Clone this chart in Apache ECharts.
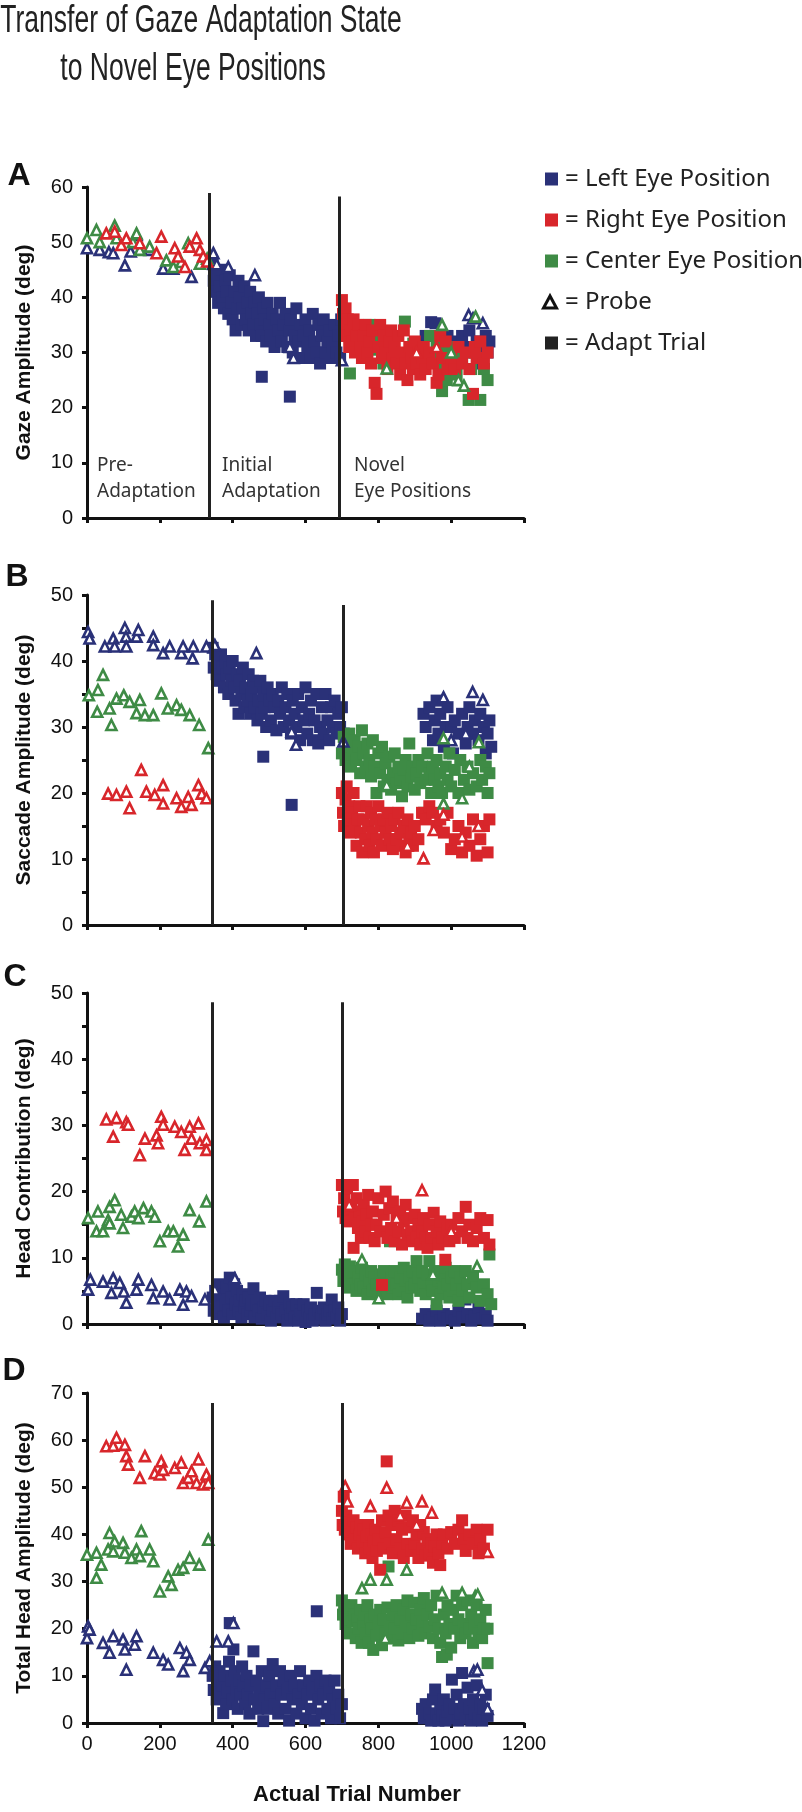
<!DOCTYPE html>
<html><head><meta charset="utf-8">
<script src="https://cdn.jsdelivr.net/npm/echarts@6/dist/echarts.min.js"></script>
<style>html,body{margin:0;padding:0;background:#fff}#c{width:802px;height:1812px}</style>
</head><body><div id="c"></div><script>
// ---------- tick labels ----------
const trialTicks = [0, 200, 400, 600, 800, 1000, 1200];
const yTicksA = [0, 10, 20, 30, 40, 50, 60];
const yTicksB = [0, 10, 20, 30, 40, 50];
const yTicksC = [0, 10, 20, 30, 40, 50];
const yTicksD = [0, 10, 20, 30, 40, 50, 60, 70];
const panelLetters = ['A', 'B', 'C', 'D'];
const yTitles = ['Gaze Amplitude (deg)', 'Saccade Amplitude (deg)', 'Head Contribution (deg)', 'Total Head Amplitude (deg)'];
const xTitle = 'Actual Trial Number';
const legendLabels = ['= Left Eye Position', '= Right Eye Position', '= Center Eye Position', '= Probe', '= Adapt Trial'];
const phaseLabels = [['Pre-', 'Adaptation'], ['Initial', 'Adaptation'], ['Novel', 'Eye Positions']];
// divider positions (trial number) and their top value per panel
const dividerTrials = [[337, 694], [343, 705], [343, 702], [343, 702]];
const dividerTops = [[58.9, 58.3], [49.2, 48.5], [48.6, 48.6], [67.9, 67.9]];

// ---------- Panel A : Gaze amplitude ----------
const A_leftProbe = [[0,48.9],[35,48.6],[60,48.2],[72,48],[104,45.8],[120,48.3],[136,51.3],[172,48.6],[209,45.2],[237,45.2],[287,43.7],[347,48],[356,46],[388,45.5],[461,44],[557,31],[567,29],[700,28.6],[1048,36.8],[1060,36.2],[1087,35.3]];
const A_centerProbe = [[0,50.7],[26,52.2],[35,50],[76,53],[81,50.7],[126,50],[136,51.6],[145,48.6],[172,49.2],[218,46.7],[237,45.5],[259,46.4],[278,49.8],[310,46.1],[330,47],[823,27.1],[975,35],[1020,25],[1067,36.5],[1035,24],[1000,30]];
const A_rightProbe = [[53,51.6],[76,51.9],[94,49.5],[108,50.7],[145,49.8],[191,48],[204,51],[241,48.9],[250,47.4],[269,45.5],[282,49.2],[301,50.7],[310,48.6],[319,47.4],[330,46.5],[905,30],[960,31]];
const A_leftAdapt = [[345,46],[348,43],[352,41],[356,44],[360,39],[364,42],[368,45],[372,40],[376,38],[380,43],[384,41],[388,37],[392,44],[396,39],[400,36],[404,41],[408,34],[412,38],[416,43],[420,40],[424,35],[428,38],[432,42],[436,36],[440,39],[444,34],[448,41],[452,37],[456,35],[460,39],[464,33],[468,37],[472,40],[476,35],[480,33],[484,38],[488,36],[492,32],[496,39],[500,35],[505,33],[510,37],[515,31],[520,36],[525,34],[530,39],[535,32],[540,35],[545,37],[550,31],[555,34],[560,36],[565,30],[570,33],[575,38],[580,32],[585,35],[590,29],[595,33],[600,36],[605,31],[610,34],[615,29],[620,37],[625,32],[630,30],[635,35],[640,28],[645,33],[650,36],[655,30],[660,32],[665,34],[670,29],[675,31],[680,35],[685,30],[690,33],[695,29],[698,36],[480,25.6],[557,22],
  [930,33],[945,35.5],[957,35.3],[965,32],[975,31],[990,33],[1000,30],[1010,32],[1020,29],[1030,33],[1040,31],[1050,34],[1060,30],[1070,32],[1080,29],[1090,31],[1100,30],[1095,33],[1085,28],[1105,32]];
const A_centerAdapt = [[722,26.2],[768,31],[776,35],[785,33],[796,30.5],[814,28],[873,35.6],[896,31.6],[942,33],[950,29],[960,31],[968,27],[975,23],[980,30],[988,25],[995,28],[1005,31],[1015,26],[1030,29],[1048,21.4],[1055,27],[1065,30],[1080,21.4],[1090,27],[1100,25]];
const A_rightAdapt = [[700,39.5],[703,37],[706,35],[710,38],[712,33],[716,36],[720,31],[724,34],[728,32],[732,36],[736,30],[740,33],[745,35],[750,31],[755,29],[760,33],[765,35],[770,30],[775,32],[780,28],[785,34],[790,24.5],[795,22.5],[800,31],[805,35],[810,29],[815,33],[820,30],[825,27],[830,32],[835,34],[840,29],[845,31],[850,28],[855,33],[860,26],[865,30],[870,34],[875,28],[880,25],[885,31],[890,29],[895,27],[900,32],[905,28],[910,30],[915,26],[920,29],[925,31],[930,27],[940,30],[950,28],[960,24.5],[965,26],[970,33],[975,29],[985,32],[990,27],[1000,29],[1010,27],[1020,31],[1030,28],[1040,30],[1050,27],[1060,22.5],[1065,31],[1070,29],[1080,32],[1090,28],[1100,30]];

// ---------- Panel B : Saccade amplitude ----------
const B_leftProbe = [[3,44.4],[7,43.4],[49,42.2],[72,43.4],[76,42.2],[104,45],[107,43.7],[108,42.2],[136,43.7],[141,44.7],[182,43.7],[182,42.4],[209,41.2],[227,42.2],[259,41.2],[264,42.2],[290,40.4],[292,42.2],[328,42.2],[351,42.4],[465,41.2],[562,29.3],[574,27.3],[704,27.8],[979,34.5],[1059,35.3],[1087,34.1],[1000,28],[1040,29]];
const B_centerProbe = [[5,34.8],[30,35.6],[44,37.9],[28,32.3],[62,32.8],[67,30.3],[81,34.3],[101,34.8],[117,33.8],[145,34.1],[136,32.1],[159,31.8],[182,31.8],[204,35.1],[222,32.8],[246,33.3],[259,32.6],[282,31.8],[308,30.3],[333,26.8],[823,21.2],[979,28.3],[979,18.4],[1030,19.2],[1076,27.7],[1050,24]];
const B_rightProbe = [[58,19.9],[81,19.7],[108,20.2],[117,17.7],[149,23.5],[163,20.2],[186,19.7],[209,21.2],[209,18.4],[246,19.2],[259,17.9],[278,19.4],[287,18.2],[306,21.2],[315,19.9],[328,19.2],[924,10.1],[952,14.4],[1030,13.4],[979,16.7],[1075,15],[880,12]];
const B_leftAdapt = [[345,42],[348,39],[352,41],[356,38],[360,40],[364,37],[368,41],[372,39],[376,36],[380,40],[384,38],[388,35],[392,39],[396,37],[400,40],[404,36],[408,34],[412,38],[416,32],[420,37],[424,35],[428,39],[432,33],[436,36],[440,34],[444,38],[448,32],[452,35],[456,37],[460,33],[464,36],[468,31],[472,34],[476,37],[480,32],[484,35],[488,33],[492,30],[496,36],[500,34],[505,31],[510,35],[515,33],[520,29.5],[525,34],[530,32],[535,36],[540,30],[545,33],[550,35],[555,31],[560,29],[565,34],[570,32],[575,30],[580,35],[585,28],[590,33],[595,31],[600,36],[605,29],[610,32],[615,34],[620,28],[625,31],[630,35],[635,27.5],[640,30],[645,33],[650,29],[655,35],[660,31],[665,28],[670,33],[675,30],[680,34],[685,29],[690,32],[695,30],[700,33],[705,29],[484,25.5],[562,18.2],
  [924,32],[930,30],[940,33],[950,28],[955,31],[960,34],[965,29],[970,32],[980,27],[985,30],[990,33],[1000,30],[1005,26],[1010,31],[1020,29],[1030,32],[1040,27.5],[1045,30],[1050,33],[1060,29],[1065,31],[1075,28],[1080,32],[1090,30],[1095,26],[1100,29],[1105,31],[1110,27]];
const B_centerAdapt = [[700,26],[705,28.5],[710,25],[715,27],[720,29],[725,24],[730,26.5],[735,28],[740,25],[745,27],[750,23],[755,29.5],[760,26],[765,24],[770,27.5],[775,25],[780,22.5],[785,28],[790,24],[795,20],[800,26],[805,23],[810,27],[815,21],[820,24.5],[825,22],[830,25.5],[835,20.5],[840,23],[845,26],[850,21.5],[855,24],[860,22],[865,19.5],[870,23.5],[875,25],[880,21],[885,27.5],[890,22.5],[895,24],[900,20.5],[905,23],[910,25],[915,21.5],[920,24],[925,17],[930,22],[935,26],[940,23],[945,20],[950,24],[955,22],[960,25],[965,21],[970,23],[975,20],[985,24],[990,22],[995,26],[1000,21],[1010,23.5],[1020,20],[1025,25],[1035,22],[1045,24],[1050,20.5],[1060,23],[1070,21],[1080,25],[1085,22],[1095,24],[1100,20],[1105,23]];
const B_rightAdapt = [[700,20],[703,17],[706,15],[710,19],[713,21],[716,16],[720,18],[724,14],[728,17],[732,20],[736,15],[740,12],[744,16],[748,18],[752,14],[756,11],[760,16],[764,13],[768,18],[772,15],[776,12],[780,17],[784,14],[788,11],[792,16],[796,13],[800,18],[805,15],[810,12],[815,16],[820,14],[825,17],[830,13],[835,15],[840,11.5],[845,16],[850,13],[855,17],[860,14],[865,12],[870,15],[875,11],[880,16],[885,13],[890,14],[895,12],[900,15],[910,13],[920,17],[930,16],[940,18],[950,17],[960,15],[970,16],[980,14],[990,17],[1000,11.5],[1010,13],[1020,15],[1030,11],[1040,14],[1050,12],[1060,16],[1070,10.5],[1080,13],[1090,15],[1100,11],[1105,16]];

// ---------- Panel C : Head contribution ----------
const C_leftProbe = [[3,5.2],[9,6.7],[44,6.4],[72,6.9],[67,4.7],[90,6.2],[101,4.9],[108,3.2],[136,5.2],[141,6.7],[177,5.9],[182,3.9],[209,4.9],[227,3.7],[255,5.2],[264,2.9],[273,4.9],[287,4.2],[324,3.7],[351,5.2],[406,6.9]];
const C_centerProbe = [[3,16],[30,17],[26,14],[44,14],[58,15.7],[62,17.7],[76,18.7],[62,15.2],[94,16.5],[99,14.5],[122,16.2],[131,17],[141,16],[155,17.5],[177,17],[186,16.2],[200,12.5],[223,14],[237,14],[250,11.7],[264,13.5],[282,17.2],[308,15.5],[328,18.5],[755,9.7],[801,3.9],[1071,8.7],[950,7.5]];
const C_rightProbe = [[53,30.9],[81,31.1],[72,28.3],[108,30.5],[113,30.1],[145,25.5],[159,28],[191,28.5],[195,27.3],[204,31.3],[209,30.1],[241,29.8],[259,29],[268,26.3],[282,29.8],[287,28],[306,30.3],[310,27.3],[328,27.8],[328,26.3],[920,20.2],[720,18],[850,16],[1000,14]];
const C_leftAdapt = [[345,4],[348,2],[352,5],[356,1.5],[360,3.5],[364,6],[368,2.5],[372,4.5],[376,1],[380,3],[384,5.5],[388,2],[392,7],[396,4],[400,1.5],[404,6],[408,3],[412,5],[416,2],[420,3.5],[424,1],[428,4.5],[432,2.5],[436,3.5],[440,1.5],[444,4],[448,2],[452,3],[457,5.4],[460,1],[465,3],[470,2],[475,4],[480,0.8],[485,2.5],[490,3.5],[495,1.5],[500,3],[505,0.5],[510,2],[515,3.5],[520,1],[525,2.5],[530,3.5],[535,1.5],[539,4.2],[545,2],[550,0.5],[555,3],[560,1.5],[565,2.5],[570,1],[575,3],[580,0.5],[585,2],[590,1.5],[595,3],[600,0.3],[605,2],[610,1],[615,2.5],[620,0.5],[625,1.5],[631,4.7],[635,2],[640,0.8],[645,1.5],[650,2.5],[655,0.5],[660,1.5],[665,2],[672,3.7],[675,0.8],[680,2],[685,1],[690,2.5],[695,0.5],[700,1.5],
  [920,0.8],[930,1.5],[940,0.5],[950,1],[960,2],[970,0.5],[980,1.5],[990,0.8],[1000,1.2],[1010,0.5],[1020,2],[1030,1],[1039,3.7],[1045,1.5],[1055,0.5],[1065,1.2],[1075,2.5],[1085,0.8],[1095,1.5],[1100,0.5]];
const C_centerAdapt = [[700,8.2],[704,6.5],[708,9],[712,7],[716,5.5],[722,8.7],[726,7.5],[730,6],[735,8],[740,5],[745,7],[750,6],[755,8.5],[760,5.5],[765,7.5],[770,4.5],[775,6.5],[780,8],[785,5],[790,7],[795,6],[800,4.5],[805,7.5],[810,5.5],[815,8],[820,6],[825,4.5],[832,12.5],[835,7],[840,5.5],[845,8],[850,6],[855,4.5],[860,7],[865,5],[870,8.5],[875,6.5],[880,4],[885,7],[890,5.5],[895,8],[900,6],[905,9.5],[910,7],[915,5],[920,8],[925,6],[930,4.5],[935,7.5],[940,9.5],[945,6],[950,5],[955,8],[960,3],[965,6.5],[970,4.5],[975,7],[980,5.5],[985,8.5],[990,6],[995,4],[1000,7],[1005,5],[1010,8],[1015,6],[1020,3.5],[1025,7],[1030,5],[1040,8],[1045,6],[1050,4],[1060,7],[1070,5.5],[1080,3.5],[1090,6],[1100,4.5],[1105,10.5],[1110,3]];
const C_rightAdapt = [[700,21],[703,17],[706,19],[710,16],[714,20.5],[718,18],[722,15.5],[726,17.5],[730,21],[732,11.5],[736,16],[740,19],[744,14.5],[748,17],[752,13],[756,15.5],[760,18],[764,14],[768,16.5],[772,19.5],[776,13],[780,15],[785,17],[790,12.5],[795,15],[800,19],[805,14],[810,5.9],[815,16.5],[820,20],[825,13],[830,17.5],[835,14.5],[840,18.5],[845,12.5],[850,16],[855,14],[860,17],[865,12],[870,15.5],[875,18],[880,13.5],[885,16],[890,14],[895,12.5],[900,16.5],[905,13],[910,15],[915,12],[920,14],[925,16],[930,13],[935,11.5],[940,15],[945,13],[952,16.8],[960,14],[965,12],[970,15.5],[975,13],[984,9.7],[990,14.5],[995,12.5],[1000,15],[1010,13],[1020,16],[1030,14],[1040,17.7],[1045,13],[1050,15],[1060,12.5],[1070,14.5],[1080,16],[1090,13],[1100,15.7],[1105,12]];

// ---------- Panel D : Total head amplitude ----------
const D_leftProbe = [[0,18],[3,20.5],[7,19.8],[44,17],[62,14.9],[72,18.4],[99,17.7],[104,15.6],[108,11.3],[131,16.6],[136,18.4],[182,14.9],[209,13.4],[223,12.4],[255,15.9],[264,11],[273,14.9],[282,13.4],[324,11.7],[337,13.1],[356,17.3],[388,17.3],[402,21.2],[1062,11],[1072,11.3],[1085,7],[1100,3]];
const D_centerProbe = [[0,35.7],[26,36.1],[26,30.8],[39,33.6],[58,36.8],[62,40.3],[76,38.5],[72,36.4],[99,38.2],[104,36.1],[122,35],[136,36.8],[149,40.7],[145,35.4],[172,36.8],[182,34.3],[200,27.9],[223,31.1],[232,29.3],[250,32.5],[264,32.9],[282,35],[308,33.6],[333,38.9],[755,28.6],[778,30.4],[823,30.4],[878,32.5],[975,27.6],[1030,27.6],[1066,26.9],[1073,27.2],[819,18]];
const D_rightProbe = [[53,58.7],[72,58.8],[81,60.5],[104,59],[108,56.6],[113,54.8],[145,52],[159,56.6],[186,53],[200,52.7],[204,55.5],[209,53.7],[241,54.1],[259,55.2],[264,50.9],[278,52],[287,53.4],[306,55.9],[301,50.9],[319,50.6],[328,52.7],[333,50.9],[709,50.2],[715,47],[823,49.9],[778,46],[878,46.7],[920,47],[947,44.6],[1100,36.3],[905,42],[860,44]];
const D_leftAdapt = [[345,10],[348,7],[352,12],[356,5],[360,9],[364,11],[368,6],[372,8],[374,2.1],[378,10],[382,4],[386,7],[390,13],[392,21.2],[396,9],[400,5],[402,15.6],[406,11],[410,7],[414,3],[418,9],[422,6],[426,12],[430,8],[434,4],[438,10],[442,6],[446,2],[450,8],[457,15.2],[460,5],[465,9],[470,3],[475,7],[480,11],[484,0.4],[488,5],[492,8],[496,3],[500,10],[505,6],[510,12.5],[515,4],[520,8],[525,2],[530,11],[535,6],[540,9],[545,3],[550,7],[555,0.5],[560,10],[565,5],[570,8],[575,2],[580,6],[585,11],[590,4],[595,8],[600,1],[605,6],[610,9],[615,3],[620,7],[625,0.5],[631,23.7],[630,10],[635,5],[640,8],[645,2],[650,6],[655,9],[660,3],[665,7],[670,1],[675,5],[680,9],[685,3],[690,6],[695,1],[700,4],
  [920,3],[925,1],[930,4],[940,2],[945,0.5],[950,5],[956,7.1],[960,2],[965,0.5],[970,3],[975,1.5],[980,5],[985,0.5],[990,2.5],[995,4],[1002,9.2],[1005,1],[1010,3],[1015,6],[1020,0.5],[1025,2],[1030,10.6],[1035,4],[1040,1],[1045,7.5],[1050,3],[1055,0.5],[1060,5],[1065,2],[1070,8],[1075,1],[1080,4],[1085,0.5],[1090,3],[1095,6],[1100,1.5]];
const D_centerAdapt = [[700,26],[703,23],[706,25],[710,21],[714,24],[718,22],[722,19],[726,25],[730,21.5],[734,23],[738,18],[742,22],[746,20],[750,24],[754,17],[758,21],[762,23],[766,19],[770,25],[774,17],[778,22],[782,20],[786,15.5],[790,23],[795,18.5],[800,21],[805,24],[810,16.5],[815,22],[820,19],[825,24.5],[828,33.2],[832,21],[836,18],[840,23],[845,20],[850,25],[855,17.5],[860,22],[865,19],[870,24],[875,21],[880,26],[885,18],[890,23],[895,20],[900,25.5],[905,22],[910,18.5],[915,24],[920,21],[925,26.5],[930,19],[935,23],[940,20.5],[945,25],[950,18],[955,22],[960,27],[965,20],[970,17],[975,14],[980,23],[985,19],[988,14.5],[990,25],[995,21],[1000,16],[1005,24],[1010,20],[1015,27],[1020,22],[1025,18],[1030,25],[1035,21],[1040,19],[1045,26],[1050,20],[1055,23],[1060,17],[1065,21],[1070,25],[1075,19],[1080,22],[1085,18],[1090,20],[1095,24],[1100,12.7],[1100,20]];
const D_rightAdapt = [[700,45],[702,42],[705,48],[708,41],[712,44],[716,40],[720,42.5],[724,38],[728,41],[732,43],[736,39],[740,41.5],[744,37],[748,40],[752,42],[756,38.5],[760,41],[764,36],[768,39.5],[772,42],[776,37],[780,40],[784,35],[788,38.5],[792,41],[796,36.5],[800,39],[805,32.5],[810,43],[815,37],[820,40.5],[823,55.5],[828,44],[832,38],[836,42],[840,36],[845,45],[850,39],[855,43],[860,37],[865,41],[870,35],[875,44],[880,38],[885,41.5],[890,36.5],[895,43],[900,38],[905,40],[910,35],[915,42],[920,37],[925,40.5],[930,35.5],[935,39],[940,36],[945,38],[950,34],[955,37.5],[960,40],[965,36],[970,33.5],[975,38],[980,40],[990,37],[1000,40.5],[1010,38],[1020,41],[1030,43],[1035,39],[1040,36.5],[1050,40],[1060,38],[1070,41],[1075,36],[1080,39],[1090,37],[1100,41]];

// ---------- build ----------
const BLUE = '#2a3178', RED = '#d8262b', GREEN = '#3e8b45', INK = '#111';
const FONT = '"Liberation Sans", Arial, sans-serif';
const SANS2 = '"Noto Sans", "Open Sans", sans-serif';

const panels = [
  {ticks: yTicksA, minor: false, L: A_leftProbe, C: A_centerProbe, R: A_rightProbe, LA: A_leftAdapt, CA: A_centerAdapt, RA: A_rightAdapt},
  {ticks: yTicksB, minor: true,  L: B_leftProbe, C: B_centerProbe, R: B_rightProbe, LA: B_leftAdapt, CA: B_centerAdapt, RA: B_rightAdapt},
  {ticks: yTicksC, minor: true,  L: C_leftProbe, C: C_centerProbe, R: C_rightProbe, LA: C_leftAdapt, CA: C_centerAdapt, RA: C_rightAdapt},
  {ticks: yTicksD, minor: false, L: D_leftProbe, C: D_centerProbe, R: D_rightProbe, LA: D_leftAdapt, CA: D_centerAdapt, RA: D_rightAdapt}
];
const gridBoxes = [
  {left: 87, width: 437, top: 187, height: 331},
  {left: 87, width: 437, top: 595, height: 330},
  {left: 87, width: 437, top: 993, height: 331},
  {left: 87, width: 437, top: 1393, height: 330}
];

const grid = [], xAxis = [], yAxis = [], series = [];
panels.forEach((p, i) => {
  grid.push(Object.assign({containLabel: false}, gridBoxes[i]));
  xAxis.push({
    type: 'value', gridIndex: i, min: trialTicks[0], max: trialTicks[trialTicks.length - 1],
    interval: trialTicks[1] - trialTicks[0],
    axisLine: {show: true, onZero: false, lineStyle: {color: INK, width: 3}},
    axisTick: {show: true, length: 5, lineStyle: {color: INK, width: 3}},
    axisLabel: {show: i === 3, fontSize: 20, color: INK, fontFamily: FONT, margin: 11, formatter: v => String(v)},
    splitLine: {show: false}
  });
  yAxis.push({
    type: 'value', gridIndex: i, min: p.ticks[0], max: p.ticks[p.ticks.length - 1],
    interval: p.ticks[1] - p.ticks[0],
    name: yTitles[i], nameLocation: 'middle', nameRotate: 90, nameGap: 52,
    nameTextStyle: {fontSize: 21, fontWeight: 'bold', fontFamily: FONT, color: INK},
    axisLine: {show: true, onZero: false, lineStyle: {color: INK, width: 3}},
    axisTick: {show: true, length: 5, lineStyle: {color: INK, width: 3}},
    minorTick: {show: p.minor, splitNumber: 2, length: 5, lineStyle: {color: INK, width: 3}},
    axisLabel: {fontSize: 20, color: INK, fontFamily: FONT, margin: 14, formatter: v => String(v)},
    splitLine: {show: false}, minorSplitLine: {show: false}
  });
  const sq = (name, data, color) => ({type: 'scatter', name, xAxisIndex: i, yAxisIndex: i, data, clip: false, silent: true,
    symbol: 'rect', symbolSize: 12, itemStyle: {color, opacity: 1}, z: 2});
  const tri = (name, data, color) => ({type: 'scatter', name, xAxisIndex: i, yAxisIndex: i, data, clip: false, silent: true,
    symbol: 'triangle', symbolSize: 10, itemStyle: {color: '#fff', borderColor: color, borderWidth: 2.6, opacity: 1}, z: 3});
  series.push(sq('Left adapt', p.LA, BLUE));
  series.push(sq('Center adapt', p.CA, GREEN));
  series.push(sq('Right adapt', p.RA, RED));
  series.push(tri('Left probe', p.L, BLUE));
  series.push(tri('Center probe', p.C, GREEN));
  series.push(tri('Right probe', p.R, RED));
  series.push({type: 'scatter', name: 'dividers', xAxisIndex: i, yAxisIndex: i, data: [], z: 5, silent: true,
    markLine: {silent: true, symbol: ['none', 'none'], animation: false, label: {show: false},
      lineStyle: {color: '#222', width: 3, type: 'solid'},
      data: dividerTrials[i].map((t, k) => [{coord: [t, dividerTops[i][k]]}, {coord: [t, 0]}])}});
});

const graphic = [];
// title
graphic.push({type: 'text', x: 201, y: 21, scaleX: 0.68, style: {text: 'Transfer of Gaze Adaptation State', font: '39px ' + FONT, fill: '#222', align: 'center', verticalAlign: 'middle'}});
graphic.push({type: 'text', x: 193, y: 69, scaleX: 0.68, style: {text: 'to Novel Eye Positions', font: '39px ' + FONT, fill: '#222', align: 'center', verticalAlign: 'middle'}});
// panel letters
const letterPos = [[19, 176], [17, 577], [15, 977], [14, 1371]];
panelLetters.forEach((l, i) => graphic.push({type: 'text', x: letterPos[i][0], y: letterPos[i][1],
  style: {text: l, font: 'bold 32px ' + FONT, fill: '#111', align: 'center', verticalAlign: 'middle'}}));
// phase labels (panel A)
const phaseX = [97, 222, 354];
phaseLabels.forEach((pl, k) => {
  graphic.push({type: 'text', x: phaseX[k], y: 466, style: {text: pl[0], font: '19px ' + SANS2, fill: '#333', align: 'left', verticalAlign: 'middle'}});
  graphic.push({type: 'text', x: phaseX[k], y: 492, style: {text: pl[1], font: '19px ' + SANS2, fill: '#333', align: 'left', verticalAlign: 'middle'}});
});
// x axis title
graphic.push({type: 'text', x: 357, y: 1795, style: {text: xTitle, font: 'bold 22px ' + FONT, fill: '#111', align: 'center', verticalAlign: 'middle'}});
// legend
const legendColors = [BLUE, RED, GREEN, '#111', '#222'];
legendLabels.forEach((lab, k) => {
  const cy = 179 + k * 41;
  if (k === 3) {
    graphic.push({type: 'polygon', shape: {points: [[550, cy - 6], [543.5, cy + 6], [556.5, cy + 6]]},
      style: {fill: '#fff', stroke: '#111', lineWidth: 3}});
  } else {
    graphic.push({type: 'rect', shape: {x: 545, y: cy - 6.5, width: 13, height: 13}, style: {fill: legendColors[k]}});
  }
  graphic.push({type: 'text', x: 565, y: cy, style: {text: lab, font: '24px ' + SANS2, fill: '#222', align: 'left', verticalAlign: 'middle'}});
});

const chart = echarts.init(document.getElementById('c'), null, {renderer: 'canvas'});
chart.setOption({animation: false, backgroundColor: '#fff', grid, xAxis, yAxis, series, graphic});
</script></body></html>
